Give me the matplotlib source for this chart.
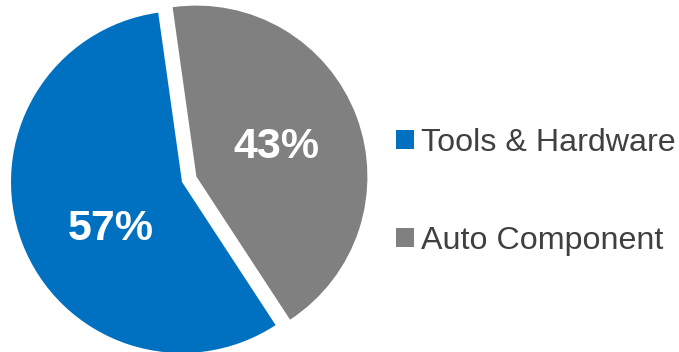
import matplotlib
matplotlib.use("Agg")
import matplotlib.pyplot as plt
import numpy as np

plt.rcParams["font.family"] = ["Liberation Sans", "DejaVu Sans"]

categories = ["Tools & Hardware", "Auto Component"]
shares = [57, 43]
colors = ["#0070C0", "#808080"]
explode = [0.0, 0.09]

W, H = 679, 352
fig = plt.figure(figsize=(W / 100, H / 100), dpi=100)
ax = fig.add_axes([0, 0, 1, 1])

wedges, _, pct_texts = ax.pie(
    shares,
    colors=colors,
    explode=explode,
    startangle=98,
    counterclock=True,
    autopct=lambda p: f"{p:.0f}%",
    pctdistance=0.5,
    labels=None,
    wedgeprops=dict(linewidth=0),
    textprops=dict(color="white", fontsize=31, fontweight="bold"),
)

# nudge the large-slice label lower and toward the middle
x0, y0 = pct_texts[0].get_position()
pct_texts[0].set_position((x0 + 0.05, y0 - 0.10))

# pie centre sits at (182, 182) px from the top-left, radius 171 px
r_px = 171.0
cx, cy = 182.0, 182.0
ax.set_xlim(-cx / r_px, (W - cx) / r_px)
ax.set_ylim(-(H - cy) / r_px, cy / r_px)
ax.set_aspect("equal")
ax.axis("off")

leg = ax.legend(
    wedges,
    categories,
    loc="upper left",
    bbox_to_anchor=(380 / W, 1 - 112 / H),
    bbox_transform=fig.transFigure,
    frameon=False,
    fontsize=23.2,
    handlelength=0.55,
    handleheight=0.55,
    handletextpad=0.22,
    labelspacing=2.1,
    borderpad=0,
)
for t in leg.get_texts():
    t.set_color("#404040")

fig.savefig("out.png", dpi=100)
